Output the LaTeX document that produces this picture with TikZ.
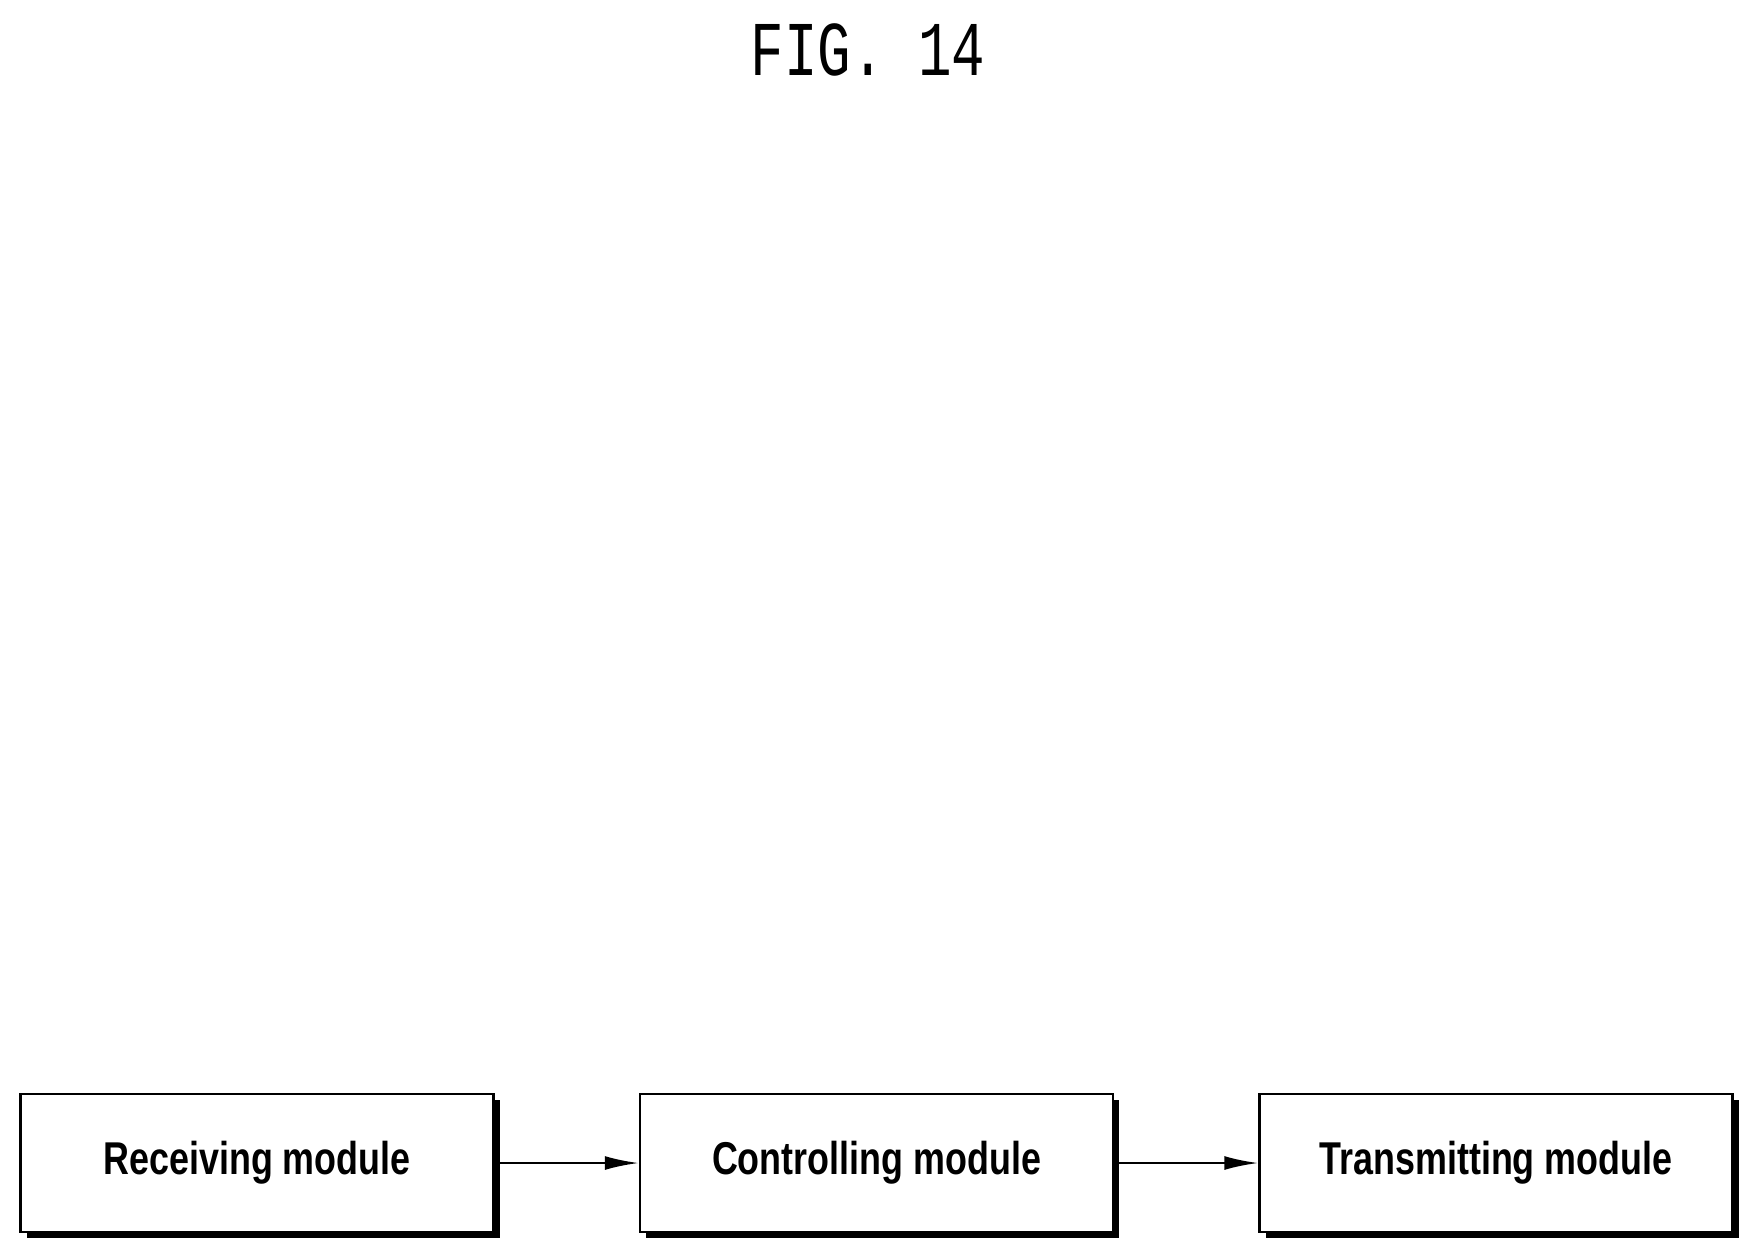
\documentclass[tikz,border=0pt]{standalone}
\usepackage{fontspec}
\setmainfont{Liberation Sans}
\newfontfamily\figfont{Liberation Mono}
\usetikzlibrary{positioning,shadows}
\tikzset{
  module/.style={draw,line width=2.5pt,fill=white,minimum width=473pt,minimum height=138pt,
    font=\fontsize{46}{50}\selectfont\bfseries,
    drop shadow={shadow xshift=6pt,shadow yshift=-6pt,opacity=1,fill=black}},
  flow/.style={line width=2.5pt,-{Latex[length=34pt,width=14pt]}}
}
\usetikzlibrary{arrows.meta}
\newcommand\narrow[1]{\scalebox{0.78}[1]{#1}}
\begin{document}
\begin{tikzpicture}[x=1pt,y=-1pt]
\useasboundingbox (0,0) rectangle (1747,1254);
\node (title) at (868,50) {\figfont\scalebox{0.9}[1.25]{\fontsize{62}{66}\selectfont FIG. 14}};
\node[module] (recv) at (257,1163) {\narrow{Receiving module}};
\node[module,right=144pt of recv] (ctrl) {\narrow{Controlling module}};
\node[module,right=144pt of ctrl] (trans) {\narrow{Transmitting module}};
\draw[flow] (recv) -- (ctrl);
\draw[flow] (ctrl) -- (trans);
\end{tikzpicture}
\end{document}
